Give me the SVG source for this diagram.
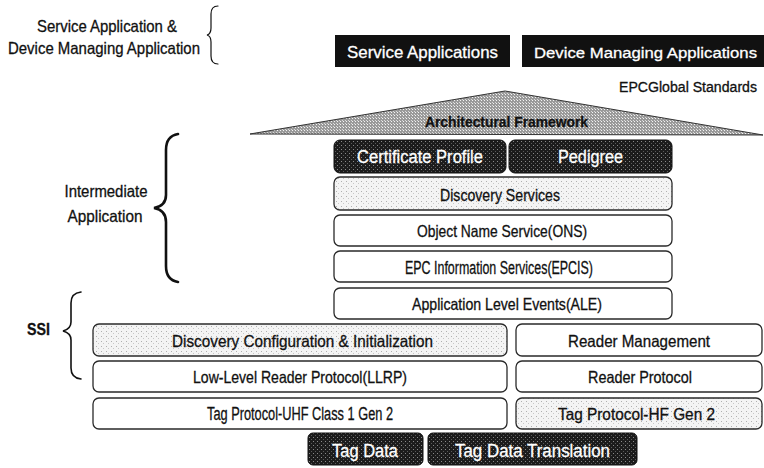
<svg xmlns="http://www.w3.org/2000/svg" width="764" height="468" viewBox="0 0 764 468">
  <defs>
    <pattern id="darkHT" width="4" height="4" patternUnits="userSpaceOnUse">
      <rect width="4" height="4" fill="#1c1c1c"/>
      <rect x="1" y="1" width="1" height="1" fill="#8a8a8a"/>
      <rect x="3" y="3" width="1" height="1" fill="#5a5a5a"/>
    </pattern>
    <pattern id="lightHT" width="5" height="5" patternUnits="userSpaceOnUse">
      <rect width="5" height="5" fill="#f4f4f4"/>
      <rect x="1" y="1" width="1" height="1" fill="#b0b0b0"/>
      <rect x="3" y="3" width="1" height="1" fill="#c8c8c8"/>
    </pattern>
    <pattern id="midHT" width="3" height="3" patternUnits="userSpaceOnUse">
      <rect width="3" height="3" fill="#9a9a9a"/>
      <rect x="1" y="1" width="1" height="1" fill="#f4f4f4"/>
      <rect x="0" y="0" width="1" height="1" fill="#d8d8d8"/>
    </pattern>
  </defs>
  <style>
    text { font-family: "Liberation Sans", Arial, sans-serif; fill: #111; stroke: #111; stroke-width: 0.3; }
    .t { font-size: 16.5px; }
    .tc { font-size: 18px; }
    .big { font-size: 18px; }
    .sm { font-size: 14px; }
    .w { fill: #ffffff; stroke: #ffffff; }
    .c { text-anchor: middle; }
    .box { fill: #ffffff; stroke: #2a2a2a; stroke-width: 1.3; }
    .lt { fill: url(#lightHT); stroke: #2a2a2a; stroke-width: 1.3; }
    .dk { fill: url(#darkHT); stroke: #111; stroke-width: 1; }
    .blk { fill: #111111; }
    .brace { fill: none; stroke: #111; stroke-linecap: round; }
  </style>
  <rect width="764" height="468" fill="#ffffff"/>

  <!-- side labels -->
  <g id="label-service-device">
    <text x="107" y="32" class="c t" textLength="140" lengthAdjust="spacingAndGlyphs">Service Application &amp;</text>
    <text x="104" y="54" class="c t" textLength="192" lengthAdjust="spacingAndGlyphs">Device Managing Application</text>
  </g>
  <g id="label-intermediate">
    <text x="106" y="197" class="c t" textLength="83" lengthAdjust="spacingAndGlyphs">Intermediate</text>
    <text x="105" y="222" class="c t" textLength="75" lengthAdjust="spacingAndGlyphs">Application</text>
  </g>
  <g id="label-ssi">
    <text x="38.5" y="335" class="c t" font-weight="bold" textLength="23" lengthAdjust="spacingAndGlyphs">SSI</text>
  </g>

  <g id="connectors">
    <path class="brace" stroke-width="1.2" d="M218 6 Q211 6 211 14 L211 28 Q211 34 207 35 Q211 36 211 42 L211 56 Q211 64 218 64"/>
    <path class="brace" stroke-width="2.6" d="M178 134 Q166 136 166 150 L166 195 Q166 206 154 208 Q166 210 166 222 L166 266 Q166 280 178 282"/>
    <path class="brace" stroke-width="1.6" d="M81 292 Q71 293 71 303 L71 322 Q71 329 63 331 Q71 333 71 340 L71 368 Q71 378 81 379"/>
  </g>

  <g id="service-applications">
    <rect x="335" y="35" width="175" height="32" class="blk"/>
    <text x="422.5" y="57.5" class="c t w" textLength="151" lengthAdjust="spacingAndGlyphs">Service Applications</text>
  </g>
  <g id="device-managing-applications">
    <rect x="522" y="35" width="242" height="32" class="blk"/>
    <text x="645.5" y="57.5" class="c w" style="font-size:15.5px" textLength="223" lengthAdjust="spacingAndGlyphs">Device Managing Applications</text>
  </g>
  <g id="epcglobal-standards">
    <text x="757" y="92" text-anchor="end" class="sm" textLength="138" lengthAdjust="spacingAndGlyphs">EPCGlobal Standards</text>
  </g>
  <g id="architectural-framework">
    <polygon points="250,134 505,91 763,135" fill="url(#midHT)" stroke="#333" stroke-width="1"/>
    <text x="506.5" y="127" class="c" style="font-size:15.5px" font-weight="bold" textLength="163" lengthAdjust="spacingAndGlyphs">Architectural Framework</text>
  </g>

  <g id="certificate-profile">
    <rect x="334" y="140" width="172" height="33" rx="6" class="dk"/>
    <text x="420" y="163" class="c big w" textLength="126" lengthAdjust="spacingAndGlyphs">Certificate Profile</text>
  </g>
  <g id="pedigree">
    <rect x="509" y="140" width="163" height="33" rx="6" class="dk"/>
    <text x="590.5" y="163" class="c big w" textLength="65" lengthAdjust="spacingAndGlyphs">Pedigree</text>
  </g>
  <g id="discovery-services">
    <rect x="334" y="177" width="338" height="33" rx="6" class="lt"/>
    <text x="500" y="200.5" class="c t" textLength="120" lengthAdjust="spacingAndGlyphs">Discovery Services</text>
  </g>
  <g id="ons">
    <rect x="334" y="215" width="338" height="31" rx="6" class="box"/>
    <text x="502" y="237" class="c t" textLength="170" lengthAdjust="spacingAndGlyphs">Object Name Service(ONS)</text>
  </g>
  <g id="epcis">
    <rect x="334" y="251" width="338" height="31" rx="6" class="box"/>
    <text x="499" y="273.5" class="c tc" textLength="188" lengthAdjust="spacingAndGlyphs">EPC Information Services(EPCIS)</text>
  </g>
  <g id="ale">
    <rect x="334" y="288" width="338" height="31" rx="6" class="box"/>
    <text x="507" y="309.5" class="c t" textLength="190" lengthAdjust="spacingAndGlyphs">Application Level Events(ALE)</text>
  </g>

  <g id="discovery-configuration">
    <rect x="93" y="324" width="414" height="32" rx="6" class="lt"/>
    <text x="302.5" y="346.5" class="c t" textLength="261" lengthAdjust="spacingAndGlyphs">Discovery Configuration &amp; Initialization</text>
  </g>
  <g id="reader-management">
    <rect x="516" y="324" width="246" height="32" rx="6" class="box"/>
    <text x="639" y="346.5" class="c t" textLength="142" lengthAdjust="spacingAndGlyphs">Reader Management</text>
  </g>
  <g id="llrp">
    <rect x="93" y="361" width="414" height="31" rx="6" class="box"/>
    <text x="300" y="383" class="c t" textLength="214" lengthAdjust="spacingAndGlyphs">Low-Level Reader Protocol(LLRP)</text>
  </g>
  <g id="reader-protocol">
    <rect x="516" y="361" width="246" height="31" rx="6" class="box"/>
    <text x="640" y="383" class="c t" textLength="104" lengthAdjust="spacingAndGlyphs">Reader Protocol</text>
  </g>
  <g id="tag-protocol-uhf">
    <rect x="93" y="398" width="414" height="31" rx="6" class="box"/>
    <text x="300" y="420" class="c tc" textLength="186" lengthAdjust="spacingAndGlyphs">Tag Protocol-UHF Class 1 Gen 2</text>
  </g>
  <g id="tag-protocol-hf">
    <rect x="516" y="398" width="246" height="31" rx="6" class="lt"/>
    <text x="636.5" y="420" class="c t" textLength="157" lengthAdjust="spacingAndGlyphs">Tag Protocol-HF Gen 2</text>
  </g>

  <g id="tag-data">
    <rect x="308" y="433" width="115" height="32" rx="5" class="dk"/>
    <text x="365" y="456.5" class="c big w" textLength="66" lengthAdjust="spacingAndGlyphs">Tag Data</text>
  </g>
  <g id="tag-data-translation">
    <rect x="428" y="433" width="209" height="32" rx="5" class="dk"/>
    <text x="532.5" y="456.5" class="c big w" textLength="155" lengthAdjust="spacingAndGlyphs">Tag Data Translation</text>
  </g>
</svg>
